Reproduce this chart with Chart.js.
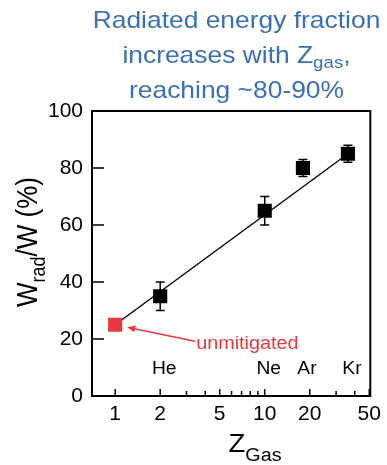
<!DOCTYPE html>
<html><head><meta charset="utf-8">
<script src="https://cdn.jsdelivr.net/npm/chart.js@4"></script>
<style>html,body{margin:0;padding:0;background:#fff}canvas{display:block}</style>
</head><body>
<canvas id="c" width="387" height="465"></canvas>
<script>
// ---- data ----
const gases = ['He', 'Ne', 'Ar', 'Kr'];
const zGas = [2, 10, 18, 36];
const radFraction = [35, 65, 80, 85];
const radError = [5, 5, 3, 3];
const unmitigatedZ = [1];
const unmitigatedFraction = [25];
const fitZ = [1, 36];
const fitFraction = [25, 85];
const yTickValues = [0, 20, 40, 60, 80, 100];
const xMajorTicks = [1, 2, 5, 10, 20, 50];
const xMinorTicks = [3, 4, 6, 7, 8, 9, 30, 40];
const gasLabelY = 10;

const FONT = '"Liberation Sans", Arial, sans-serif';
const SX = 1.1;
const BLUE = '#3B6FB6';
const RED = '#E8383D';

function partsWidth(ctx, parts) {
  let w = 0;
  for (const p of parts) { ctx.font = p.size + 'px ' + FONT; w += ctx.measureText(p.t).width; }
  return w;
}
function drawRich(ctx, parts, x, y, align, color) {
  ctx.save();
  ctx.translate(x, y); ctx.scale(SX, 1);
  const w = partsWidth(ctx, parts);
  let cx = align === 'center' ? -w / 2 : (align === 'right' ? -w : 0);
  ctx.fillStyle = color; ctx.textBaseline = 'alphabetic'; ctx.textAlign = 'left';
  for (const p of parts) {
    ctx.font = p.size + 'px ' + FONT;
    ctx.fillText(p.t, cx, p.dy || 0);
    cx += ctx.measureText(p.t).width;
  }
  ctx.restore();
}
function drawRichRotated(ctx, parts, x, yCenter, color) {
  ctx.save();
  ctx.translate(x, yCenter); ctx.scale(SX, 1); ctx.rotate(-Math.PI / 2);
  const w = partsWidth(ctx, parts);
  let cx = -w / 2;
  ctx.fillStyle = color; ctx.textBaseline = 'alphabetic'; ctx.textAlign = 'left';
  for (const p of parts) {
    ctx.font = p.size + 'px ' + FONT;
    ctx.fillText(p.t, cx, p.dy || 0);
    cx += ctx.measureText(p.t).width;
  }
  ctx.restore();
}

const customPlugin = {
  id: 'custom',
  beforeDatasetsDraw(chart) {
    const { ctx, chartArea: a, scales: { x, y } } = chart;
    ctx.save();
    ctx.strokeStyle = '#000';
    ctx.lineWidth = 2;
    ctx.strokeRect(a.left, a.top, a.right - a.left, a.bottom - a.top);
    ctx.lineWidth = 1.5;
    ctx.beginPath();
    for (const v of yTickValues) {
      if (v === y.min || v === y.max) continue;
      const py = y.getPixelForValue(v);
      ctx.moveTo(a.left, py); ctx.lineTo(a.left + 12, py);
    }
    for (const v of xMajorTicks) {
      const px = x.getPixelForValue(v);
      ctx.moveTo(px, a.bottom); ctx.lineTo(px, a.bottom - 7);
    }
    for (const v of xMinorTicks) {
      const px = x.getPixelForValue(v);
      ctx.moveTo(px, a.bottom); ctx.lineTo(px, a.bottom - 5);
    }
    ctx.stroke();
    // error bars
    ctx.lineWidth = 1.5;
    ctx.beginPath();
    zGas.forEach((z, i) => {
      const px = x.getPixelForValue(z);
      const pt = y.getPixelForValue(radFraction[i] + radError[i]);
      const pb = y.getPixelForValue(radFraction[i] - radError[i]);
      ctx.moveTo(px, pt); ctx.lineTo(px, pb);
      ctx.moveTo(px - 4.5, pt); ctx.lineTo(px + 4.5, pt);
      ctx.moveTo(px - 4.5, pb); ctx.lineTo(px + 4.5, pb);
    });
    ctx.stroke();
    ctx.restore();
  },
  afterDraw(chart) {
    const { ctx, scales: { x, y } } = chart;
    // title
    drawRich(ctx, [{ t: 'Radiated energy fraction', size: 24 }], 236.5, 28, 'center', BLUE);
    drawRich(ctx, [{ t: 'increases with Z', size: 24 }, { t: 'gas', size: 17, dy: 5 }, { t: ',', size: 24 }], 236.5, 63, 'center', BLUE);
    drawRich(ctx, [{ t: 'reaching ~80-90%', size: 24 }], 236.5, 98, 'center', BLUE);
    // axis titles
    drawRich(ctx, [{ t: 'Z', size: 25 }, { t: 'Gas', size: 18, dy: 9 }], 255, 452, 'center', '#000');
    drawRichRotated(ctx, [{ t: 'W', size: 26 }, { t: 'rad', size: 18, dy: 7 }, { t: '/W (%)', size: 26 }], 37, 242, '#000');
    // gas labels
    zGas.forEach((z, i) => {
      const px = x.getPixelForValue(z) + 4;
      const py = y.getPixelForValue(gasLabelY);
      drawRich(ctx, [{ t: gases[i], size: 17.5 }], px, py + 6, 'center', '#000');
    });
    // unmitigated annotation
    const rx = x.getPixelForValue(unmitigatedZ[0]);
    const ry = y.getPixelForValue(unmitigatedFraction[0]);
    const hx = rx + 12, hy = ry + 2.5;
    const tx = rx + 80, ty = ry + 16.5;
    ctx.save();
    ctx.strokeStyle = RED; ctx.fillStyle = RED; ctx.lineWidth = 1.5;
    const ang = Math.atan2(hy - ty, hx - tx);
    ctx.beginPath(); ctx.moveTo(tx, ty); ctx.lineTo(hx - 6 * Math.cos(ang), hy - 6 * Math.sin(ang)); ctx.stroke();
    ctx.beginPath();
    ctx.moveTo(hx, hy);
    ctx.lineTo(hx - 8 * Math.cos(ang) + 3.5 * Math.sin(ang), hy - 8 * Math.sin(ang) - 3.5 * Math.cos(ang));
    ctx.lineTo(hx - 8 * Math.cos(ang) - 3.5 * Math.sin(ang), hy - 8 * Math.sin(ang) + 3.5 * Math.cos(ang));
    ctx.closePath(); ctx.fill();
    ctx.restore();
    drawRich(ctx, [{ t: 'unmitigated', size: 18 }], rx + 81, ry + 24, 'left', RED);
  }
};

new Chart(document.getElementById('c'), {
  type: 'scatter',
  data: {
    datasets: [
      {
        label: 'fit', data: fitZ.map((z, i) => ({ x: z, y: fitFraction[i] })),
        showLine: true, borderColor: '#000', borderWidth: 1.4, pointRadius: 0, order: 3
      },
      {
        label: 'mitigated', data: zGas.map((z, i) => ({ x: z, y: radFraction[i] })),
        pointStyle: 'rect', pointRadius: 10, backgroundColor: '#000', borderWidth: 0, order: 1
      },
      {
        label: 'unmitigated', data: unmitigatedZ.map((z, i) => ({ x: z, y: unmitigatedFraction[i] })),
        pointStyle: 'rect', pointRadius: 10, backgroundColor: RED, borderWidth: 0, order: 1
      }
    ]
  },
  options: {
    responsive: false,
    devicePixelRatio: 1,
    animation: false,
    layout: { autoPadding: false, padding: { top: 111, right: 13, left: 0, bottom: 0 } },
    plugins: { legend: { display: false }, tooltip: { enabled: false } },
    scales: {
      x: {
        type: 'logarithmic', min: 0.737, max: 50.8,
        grid: { display: false, drawTicks: false },
        border: { display: false },
        afterBuildTicks: (s) => { s.ticks = xMajorTicks.map(v => ({ value: v })); },
        afterFit: (s) => { s.height = 69; },
        ticks: {
          autoSkip: false, maxRotation: 0, minRotation: 0, padding: 6,
          color: '#000', font: { family: FONT, size: 21 },
          callback: (v) => xMajorTicks.includes(v) ? String(v) : ''
        }
      },
      y: {
        min: 0, max: 100,
        grid: { display: false, drawTicks: false },
        border: { display: false },
        afterBuildTicks: (s) => { s.ticks = yTickValues.map(v => ({ value: v })); },
        afterFit: (s) => { s.width = 92; },
        ticks: { padding: 9, color: '#000', font: { family: FONT, size: 21 } }
      }
    }
  },
  plugins: [customPlugin]
});
</script>
</body></html>
